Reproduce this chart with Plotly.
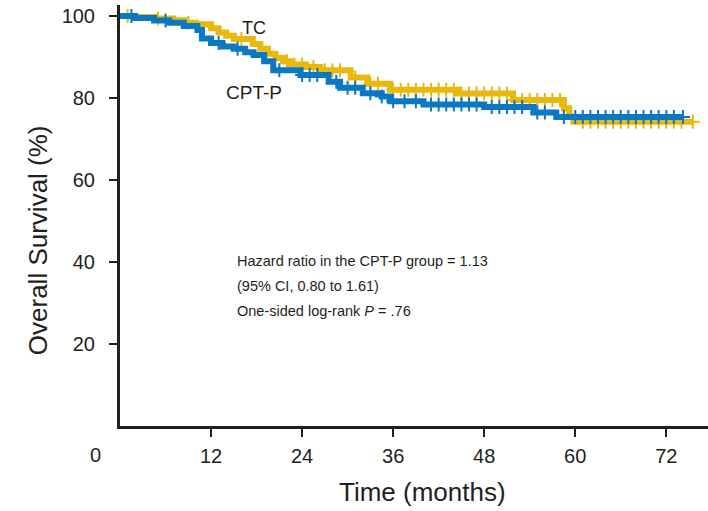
import plotly.graph_objects as go
import numpy as np

# ---- data ----
tc_t = [0, 2, 4.5, 7, 8.5, 10, 12, 13, 14, 15, 17.5, 18.5, 19.5, 20.5, 21.5, 22.5, 24.5, 26.4, 30.4, 32.6, 35.6, 44.5, 51.8, 58.5, 59.2, 59.8, 75.5]
tc_s = [100, 99.8, 99.4, 99.0, 98.4, 98.0, 97.0, 96.0, 95.2, 94.4, 93.2, 92.0, 90.8, 89.8, 89.0, 88.2, 87.6, 86.8, 85.0, 83.5, 82.0, 81.1, 79.5, 77.5, 75.5, 74.2, 74.2]
cpt_t = [0, 2, 4.5, 6.5, 8.4, 10.2, 10.8, 12, 13.5, 15, 16.5, 17.6, 19, 20.2, 23.8, 27.5, 29, 32, 34.5, 35.6, 40, 48, 54.5, 57.5, 74.2]
cpt_s = [100, 99.5, 98.9, 98.4, 97.6, 96.6, 94.5, 93.4, 92.6, 92.0, 91.2, 90.5, 89.0, 86.8, 85.6, 84.0, 82.5, 81.2, 80.4, 79.2, 78.4, 77.8, 76.5, 75.4, 75.4]

tc_cens = [1, 5, 9, 16, 22, 23, 24, 25.5, 27, 28, 29, 31, 33, 34, 36, 37, 38, 39, 40, 41, 42, 43, 44, 45, 46, 47, 48, 49, 50, 51, 52, 53, 54, 55, 56, 57, 58, 59.5, 61, 62, 63, 64, 65, 66, 67, 68, 69, 70, 71, 72, 73, 74, 75.5]
cpt_cens = [1.5, 6, 13, 15.5, 21, 24, 25, 26, 28.5, 30, 31, 33, 34.5, 36, 37.5, 39, 41, 42, 43, 44, 45, 46, 47, 49, 50, 51, 52, 53, 55, 56, 58.5, 60, 61, 62, 63, 64, 65, 66, 67, 68, 69, 70, 71, 72, 73, 74.2]

x_ticks = [12, 24, 36, 48, 60, 72]
y_ticks = [20, 40, 60, 80, 100]

YEL = "#E8B90C"
BLU = "#0A78C2"
INK = "#231f20"
FONT = "Liberation Sans, Arial, sans-serif"


def step_at(ts, ss, t):
    idx = np.searchsorted(ts, t, side="right") - 1
    return [ss[i] for i in idx]


fig = go.Figure()
for t, s, cens, col in [(tc_t, tc_s, tc_cens, YEL), (cpt_t, cpt_s, cpt_cens, BLU)]:
    fig.add_trace(go.Scatter(x=t, y=s, mode="lines", line=dict(shape="hv", color=col, width=6),
                             showlegend=False, hoverinfo="skip"))
    fig.add_trace(go.Scatter(x=cens, y=step_at(np.array(t), s, np.array(cens)), mode="markers",
                             marker=dict(symbol="cross-thin", size=10, line=dict(color=col, width=2)),
                             showlegend=False, hoverinfo="skip"))

fig.update_layout(
    width=708, height=511,
    margin=dict(l=120, r=0, t=5, b=85),
    paper_bgcolor="white", plot_bgcolor="white",
    font=dict(family=FONT, color=INK),
    xaxis=dict(range=[0, 77.5], tickvals=x_ticks, ticks="outside", ticklen=8, tickwidth=1.5,
               tickcolor=INK, showline=True, linewidth=3, linecolor=INK,
               showgrid=False, zeroline=False, tickfont=dict(size=20, family=FONT),
               ticklabelstandoff=2),
    yaxis=dict(range=[0, 102.7], tickvals=y_ticks, ticks="outside", ticklen=8, tickwidth=1.5,
               tickcolor=INK, showline=True, linewidth=3, linecolor=INK,
               showgrid=False, zeroline=False, tickfont=dict(size=20, family=FONT),
               ticklabelstandoff=10),
)

ann = [
    dict(text="0", xref="paper", yref="paper", x=-0.0425, y=-0.069, font=dict(size=20)),
    dict(text="Time (months)", xref="paper", yref="paper", x=0.515, y=-0.157, font=dict(size=26)),
    dict(text="Overall Survival (%)", xref="paper", yref="paper", x=-0.139, y=0.442,
         textangle=-90, font=dict(size=26)),
    dict(text="TC", x=17.6, y=97.0, xref="x", yref="y", font=dict(size=18)),
    dict(text="CPT-P", x=17.6, y=81.3, xref="x", yref="y", font=dict(size=19)),
    dict(text="Hazard ratio in the CPT-P group = 1.13", x=15.2, y=40.2, xref="x", yref="y", xanchor="left",
         font=dict(size=14.5)),
    dict(text="(95% CI, 0.80 to 1.61)", x=15.2, y=34.1, xref="x", yref="y", xanchor="left",
         font=dict(size=14.5)),
    dict(text="One-sided log-rank <i>P</i> = .76", x=15.2, y=28.0, xref="x", yref="y", xanchor="left",
         font=dict(size=14.5)),
]
for a in ann:
    a.setdefault("showarrow", False)
    a.setdefault("yanchor", "middle")
    a.setdefault("xanchor", "center")
    fig.add_annotation(**a)

fig.write_html("out.html")
